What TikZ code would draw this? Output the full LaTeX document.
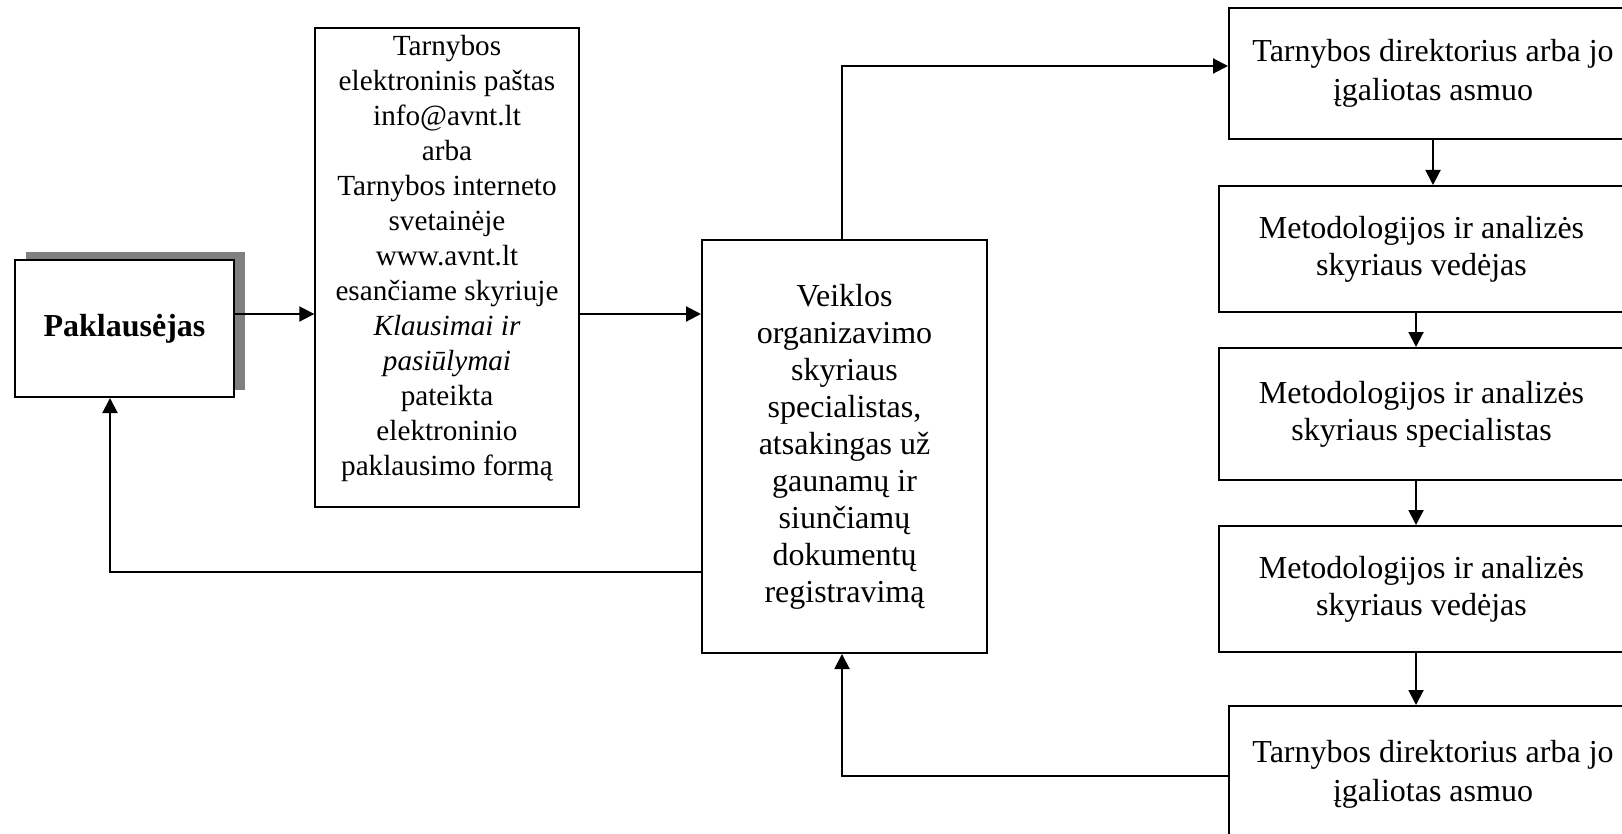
\documentclass[tikz,border=0pt]{standalone}
\usepackage{fontspec}
\setmainfont{Liberation Serif}
\usetikzlibrary{arrows.meta,shadows}

\begin{document}
\begin{tikzpicture}[x=0.5pt, y=-0.5pt,
    box/.style={draw, line width=1pt, align=center, inner sep=0pt,
        font=\fontsize{16}{18.5}\selectfont},
    rbox/.style={box, minimum width=202.5pt, minimum height=63pt},
    arr/.style={-{Triangle[length=7.5pt,width=7.5pt]}, line width=1pt}]
            % Page frame
            \useasboundingbox (0,0) rectangle (1622,834);
            \clip (0,0) rectangle (1622,834);
            \fill[white] (0,0) rectangle (1622,834);

            % Left part
            \node[box, fill=white, minimum width=109.5pt, minimum height=68.5pt,
                font=\fontsize{16}{18.5}\selectfont\bfseries,
                drop shadow={shadow xshift=5.25pt, shadow yshift=3.75pt, fill=black!50, opacity=1}]
                (pak) at (124.5,328.5) {Paklausėjas};
            \node[box, line width=0.7pt, minimum width=132pt, minimum height=239.5pt,
                font=\fontsize{14.6}{17.5}\selectfont] (web) at (447,267.5)
                {Tarnybos\\ elektroninis paštas\\ info@avnt.lt\\ arba\\ Tarnybos interneto\\
                 svetainėje\\ www.avnt.lt\\ esančiame skyriuje\\ \textit{Klausimai ir}\\
                 \textit{pasiūlymai}\\ pateikta\\ elektroninio\\ paklausimo formą\\[-5pt]\mbox{}};
            \node[box, minimum width=142.5pt, minimum height=206.5pt] (spec) at (844.5,446.5)
                {Veiklos\\ organizavimo\\ skyriaus\\ specialistas,\\ atsakingas už\\
                 gaunamų ir\\ siunčiamų\\ dokumentų\\ registravimą};

            % Right column
            \node[rbox, minimum width=204pt, minimum height=65.5pt,
                font=\fontsize{16}{19.5}\selectfont] (r1) at (1433,73.5)
                {Tarnybos direktorius arba jo\\ įgaliotas asmuo};
            \node[rbox] (r2) at (1421.5,249) {Metodologijos ir analizės\\ skyriaus vedėjas};
            \node[rbox, minimum height=66pt] (r3) at (1421.5,414)
                {Metodologijos ir analizės\\ skyriaus specialistas};
            \node[rbox] (r4) at (1421.5,589) {Metodologijos ir analizės\\ skyriaus vedėjas};
            \node[rbox, minimum width=204pt, minimum height=68pt,
                font=\fontsize{16}{19.5}\selectfont] (r5) at (1433,774)
                {Tarnybos direktorius arba jo\\ įgaliotas asmuo};

            % Helper rows and column
            \coordinate (inrow) at (0,314);
            \coordinate (backrow) at (0,572);
            \coordinate (col) at (1416,0);

            % Arrows
            \draw[arr] (pak.east |- inrow) -- (web.west |- inrow);
            \draw[arr] (web.east |- inrow) -- (spec.west |- inrow);
            \draw[arr] ([xshift=-1.25pt]spec.north) |- ([yshift=3.75pt]r1.west);
            \draw[arr] (r1.south) -- (r1.south |- r2.north);
            \draw[arr] (col |- r2.south) -- (col |- r3.north);
            \draw[arr] (col |- r3.south) -- (col |- r4.north);
            \draw[arr] (col |- r4.south) -- (col |- r5.north);
            \draw[arr] ([yshift=-1pt]r5.west) -| ([xshift=-1.25pt]spec.south);
            \draw[arr] (spec.west |- backrow) -| ([xshift=-7.25pt]pak.south);
        \end{tikzpicture}
\end{document}
